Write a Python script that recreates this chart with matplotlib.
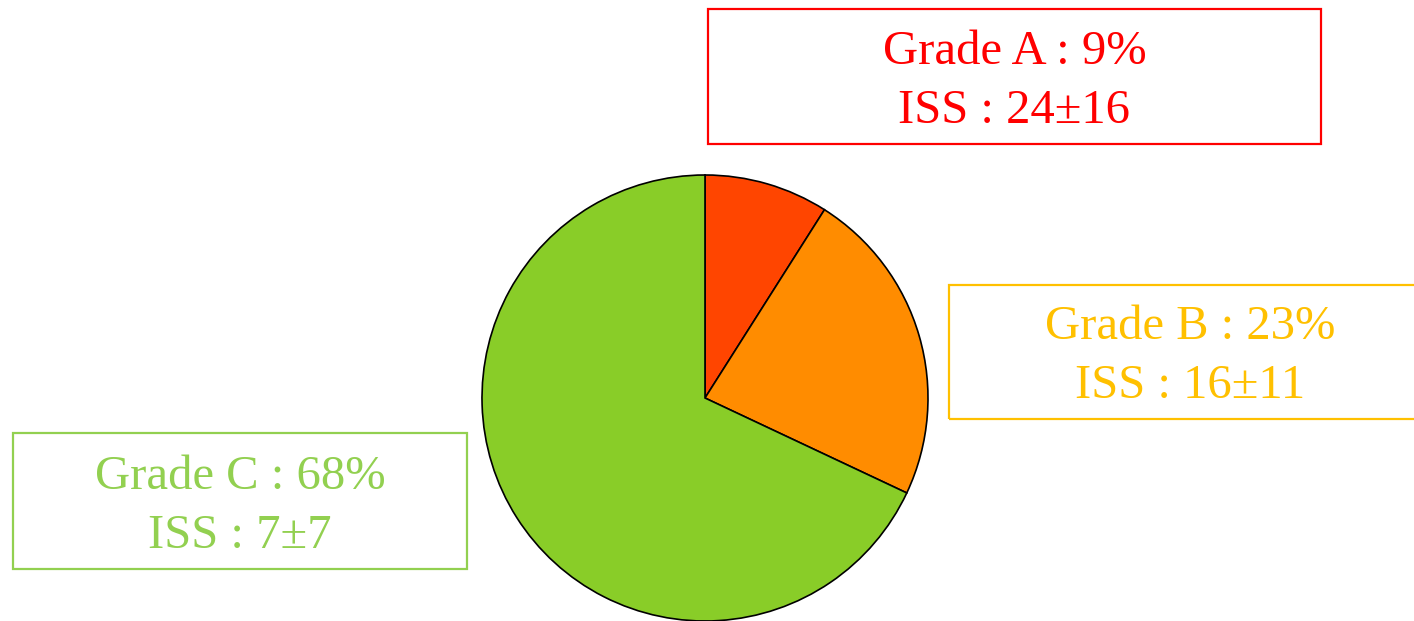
import matplotlib
matplotlib.use("Agg")
import matplotlib.pyplot as plt
from matplotlib.patches import Rectangle

# Data
grades = ["Grade A", "Grade B", "Grade C"]
shares = [9, 23, 68]
iss_mean = [24, 16, 7]
iss_sd = [16, 11, 7]
pie_colors = ["#FF4500", "#FF8C00", "#89CD28"]
label_colors = ["#FF0000", "#FFC000", "#92D050"]

W, H = 1414, 621
fig = plt.figure(figsize=(W / 100, H / 100), dpi=100)
ax = fig.add_axes([0, 0, 1, 1])
ax.set_xlim(0, W)
ax.set_ylim(0, H)
ax.axis("off")

# pie (pixel coordinates, y measured from bottom)
cx, cy, r = 705, H - 398, 223
ax.pie(shares, colors=pie_colors, startangle=90, counterclock=False,
       center=(cx, cy), radius=r, frame=True,
       wedgeprops=dict(edgecolor="black", linewidth=1.2))
ax.set_xlim(0, W)
ax.set_ylim(0, H)
ax.set_aspect("equal")
ax.axis("off")

# label boxes: (left, top, right, bottom) in top-down pixels, baselines of the two lines
boxes = [
    (708, 9, 1321, 144, 64, 123),
    (949, 285, 1431, 419, 339, 398),
    (13, 433, 467, 569, 489, 548),
]

for i, (l, t, rr, b, bl1, bl2) in enumerate(boxes):
    col = label_colors[i]
    ax.add_patch(Rectangle((l, H - b), rr - l, b - t, fill=False,
                           edgecolor=col, linewidth=1.6, clip_on=False))
    xc = (l + rr) / 2
    ax.text(xc, H - bl1, f"{grades[i]} : {shares[i]}%", color=col,
            fontsize=35, family="Liberation Serif", ha="center", va="baseline")
    ax.text(xc, H - bl2, f"ISS : {iss_mean[i]}\u00b1{iss_sd[i]}", color=col,
            fontsize=35, family="Liberation Serif", ha="center", va="baseline")

fig.savefig("out.png", dpi=100)
